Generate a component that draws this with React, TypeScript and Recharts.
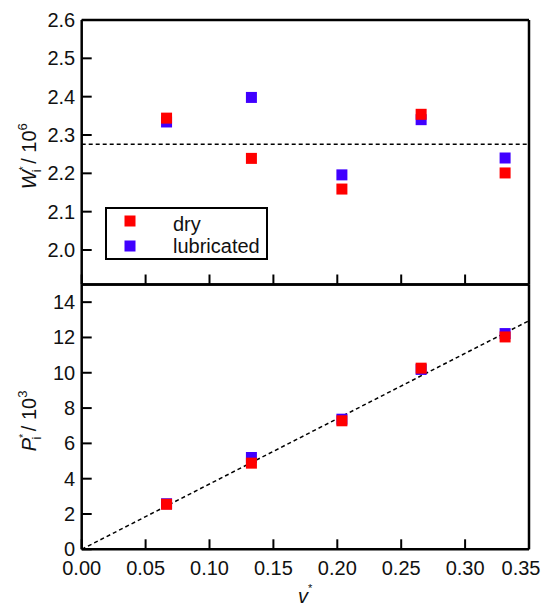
import React from 'react';
import { ScatterChart, Scatter, XAxis, YAxis, ReferenceLine, Legend, Label } from 'recharts';

// ---- data ----
const vStar = [0.0664, 0.1328, 0.2036, 0.2656, 0.3313];
const wDry = [2.344, 2.239, 2.159, 2.354, 2.201];
const wLub = [2.334, 2.398, 2.196, 2.34, 2.24];
const pDry = [2.55, 4.88, 7.28, 10.26, 12.03];
const pLub = [2.58, 5.2, 7.37, 10.19, 12.22];
const wMean = 2.276;
const pFit = [
  { x: 0, y: 0 },
  { x: 0.35, y: 12.95 },
];
const xTicks = [0, 0.05, 0.1, 0.15, 0.2, 0.25, 0.3, 0.35];
const wTicks = [2.0, 2.1, 2.2, 2.3, 2.4, 2.5, 2.6];
const pTicks = [0, 2, 4, 6, 8, 10, 12, 14];
const xDomain = [0, 0.35];
const wDomain = [1.91, 2.6];
const pDomain = [0, 15];
const seriesNames = ['dry', 'lubricated'];
const seriesColors = { dry: '#ff0000', lubricated: '#4000ff' } as Record<string, string>;

const toPoints = (ys: number[]) => vStar.map((x, i) => ({ x, y: ys[i] }));
const wDryData = toPoints(wDry);
const wLubData = toPoints(wLub);
const pDryData = toPoints(pDry);
const pLubData = toPoints(pLub);

const FONT = '"Liberation Sans", Arial, Helvetica, sans-serif';
const TICK_LEN = 10;
const FIG_W = 544;

function tickRenderer(side: 'bottom' | 'top' | 'left' | 'right', fmt?: (v: number) => string) {
  return (props: any) => {
    const { x, y, payload, index } = props;
    let line: any = null;
    let label: any = null;
    const st = { stroke: '#000', strokeWidth: 2 };
    if (side === 'bottom') {
      line = <line x1={x} y1={y} x2={x} y2={y - TICK_LEN} {...st} />;
      if (fmt) {
        // keep the label inside the figure (like the reference's last label)
        const half = 20;
        const lx = Math.min(x, FIG_W - 3 - half);
        label = (
          <text x={lx} y={y + 25.5} textAnchor="middle" fontSize={20} fontFamily={FONT} fill="#111">
            {fmt(payload.value)}
          </text>
        );
      }
    } else if (side === 'top') {
      line = <line x1={x} y1={y} x2={x} y2={y + TICK_LEN} {...st} />;
    } else if (side === 'left') {
      line = <line x1={x} y1={y} x2={x + TICK_LEN} y2={y} {...st} />;
      if (fmt)
        label = (
          <text x={x - 6.5} y={y + 7} textAnchor="end" fontSize={20} fontFamily={FONT} fill="#111">
            {fmt(payload.value)}
          </text>
        );
    } else {
      line = <line x1={x} y1={y} x2={x - TICK_LEN} y2={y} {...st} />;
    }
    return (
      <g key={`${side}-${index}`}>
        {line}
        {label}
      </g>
    );
  };
}

const squareShape = (color: string) => (props: any) => {
  const { cx, cy } = props;
  if (cx == null || cy == null) return <g />;
  const s = 11;
  return <rect x={cx - s / 2} y={cy - s / 2} width={s} height={s} fill={color} />;
};

const axisLineStyle = { stroke: '#000', strokeWidth: 2.5 };

const renderLegend = (props: any) => {
  const payload: any[] = props.payload || [];
  const items = seriesNames
    .map((n) => payload.find((p) => p.value === n))
    .filter(Boolean);
  return (
    <svg width={163} height={53} style={{ display: 'block' }}>
      <rect x={1} y={1} width={161} height={51} fill="#fff" stroke="#000" strokeWidth={2} />
      {items.map((it: any, i: number) => (
        <g key={it.value}>
          <rect x={25 - 5.5} y={14 + i * 25 - 5.5} width={11} height={11} fill={seriesColors[it.value] || it.color} />
          <text x={68} y={24 + i * 22} fontSize={20} fontFamily={FONT} fill="#111">
            {it.value}
          </text>
        </g>
      ))}
    </svg>
  );
};

const WLabel = (props: any) => {
  const vb = props.viewBox || {};
  const cx = 35.5;
  const cy = vb.y + vb.height / 2 + 4;
  return (
    <text
      transform={`translate(${cx},${cy}) rotate(-90)`}
      textAnchor="middle"
      fontSize={20}
      fontFamily={FONT}
      fill="#111"
    >
      <tspan fontStyle="italic">W</tspan>
      <tspan fontSize={11} dy={-9}>*</tspan>
      <tspan fontSize={13} dx={-6} dy={14}>i</tspan>
      <tspan dy={-5}> / 10</tspan>
      <tspan fontSize={13} dy={-9}>6</tspan>
    </text>
  );
};

const PLabel = (props: any) => {
  const vb = props.viewBox || {};
  const cx = 35.5;
  const cy = vb.y + vb.height / 2 + 4;
  return (
    <text
      transform={`translate(${cx},${cy}) rotate(-90)`}
      textAnchor="middle"
      fontSize={20}
      fontFamily={FONT}
      fill="#111"
    >
      <tspan fontStyle="italic">P</tspan>
      <tspan fontSize={11} dy={-9}>*</tspan>
      <tspan fontSize={13} dx={-6} dy={14}>i</tspan>
      <tspan dy={-5}> / 10</tspan>
      <tspan fontSize={13} dy={-9}>3</tspan>
    </text>
  );
};

const VLabel = (props: any) => {
  const vb = props.viewBox || {};
  const x = 298;
  const y = vb.y + 53.5;
  return (
    <text x={x} y={y} fontSize={20} fontFamily={FONT} fill="#111">
      <tspan fontStyle="italic">v</tspan>
      <tspan fontSize={11} dy={-11}>*</tspan>
    </text>
  );
};

const fmt1 = (v: number) => v.toFixed(1);
const fmt2 = (v: number) => v.toFixed(2);
const fmt0 = (v: number) => String(Math.round(v));

const axisCommon = {
  interval: 0 as const,
  tickSize: 0,
  tickMargin: 0,
  tickLine: false,
  axisLine: axisLineStyle,
  type: 'number' as const,
};

export default function App() {
  return (
    <div style={{ position: 'absolute', left: 0, top: 0, width: 544, height: 606, background: '#fff' }}>
      {/* top panel */}
      <div style={{ position: 'absolute', left: 0, top: 0 }}>
        <ScatterChart width={544} height={290} margin={{ top: 19, right: 14, left: 80.7, bottom: 4.5 }}>
          <XAxis
            {...axisCommon}
            xAxisId="b"
            dataKey="x"
            domain={xDomain}
            ticks={xTicks}
            orientation="bottom"
            height={1}
            tick={tickRenderer('bottom')}
          />
          <XAxis
            {...axisCommon}
            xAxisId="t"
            dataKey="x"
            domain={xDomain}
            ticks={xTicks}
            orientation="top"
            height={1}
            tick={tickRenderer('top')}
          />
          <YAxis
            {...axisCommon}
            yAxisId="l"
            dataKey="y"
            domain={wDomain}
            ticks={wTicks}
            orientation="left"
            width={1}
            tick={tickRenderer('left', fmt1)}
          >
            <Label content={WLabel} />
          </YAxis>
          <YAxis
            {...axisCommon}
            yAxisId="r"
            dataKey="y"
            domain={wDomain}
            ticks={wTicks}
            orientation="right"
            width={1}
            tick={tickRenderer('right')}
          />
          <ReferenceLine
            xAxisId="b"
            yAxisId="l"
            y={wMean}
            stroke="#000"
            strokeWidth={1.5}
            strokeDasharray="4 3"
          />
          <Scatter
            name="lubricated"
            xAxisId="b"
            yAxisId="l"
            data={wLubData}
            fill={seriesColors.lubricated}
            shape={squareShape(seriesColors.lubricated)}
            isAnimationActive={false}
          />
          <Scatter
            name="dry"
            xAxisId="b"
            yAxisId="l"
            data={wDryData}
            fill={seriesColors.dry}
            shape={squareShape(seriesColors.dry)}
            isAnimationActive={false}
          />
          <Legend
            layout="horizontal"
            verticalAlign="middle"
            align="center"
            content={renderLegend}
            wrapperStyle={{ position: 'absolute', left: 105, top: 207, width: 163, height: 53 }}
          />
        </ScatterChart>
      </div>
      {/* bottom panel */}
      <div style={{ position: 'absolute', left: 0, top: 0 }}>
        <ScatterChart width={544} height={606} margin={{ top: 283.5, right: 14, left: 80.7, bottom: 55.7 }}>
          <XAxis
            {...axisCommon}
            xAxisId="b"
            dataKey="x"
            domain={xDomain}
            ticks={xTicks}
            orientation="bottom"
            height={1}
            tick={tickRenderer('bottom', fmt2)}
          >
            <Label content={VLabel} />
          </XAxis>
          <XAxis
            {...axisCommon}
            xAxisId="t"
            dataKey="x"
            domain={xDomain}
            ticks={xTicks}
            orientation="top"
            height={1}
            tick={tickRenderer('top')}
          />
          <YAxis
            {...axisCommon}
            yAxisId="l"
            dataKey="y"
            domain={pDomain}
            ticks={pTicks}
            orientation="left"
            width={1}
            tick={tickRenderer('left', fmt0)}
          >
            <Label content={PLabel} />
          </YAxis>
          <YAxis
            {...axisCommon}
            yAxisId="r"
            dataKey="y"
            domain={pDomain}
            ticks={pTicks}
            orientation="right"
            width={1}
            tick={tickRenderer('right')}
          />
          <ReferenceLine
            xAxisId="b"
            yAxisId="l"
            segment={pFit}
            stroke="#000"
            strokeWidth={1.5}
            strokeDasharray="4 3"
          />
          <Scatter
            name="lubricated"
            xAxisId="b"
            yAxisId="l"
            data={pLubData}
            fill={seriesColors.lubricated}
            shape={squareShape(seriesColors.lubricated)}
            isAnimationActive={false}
          />
          <Scatter
            name="dry"
            xAxisId="b"
            yAxisId="l"
            data={pDryData}
            fill={seriesColors.dry}
            shape={squareShape(seriesColors.dry)}
            isAnimationActive={false}
          />
        </ScatterChart>
      </div>
    </div>
  );
}
